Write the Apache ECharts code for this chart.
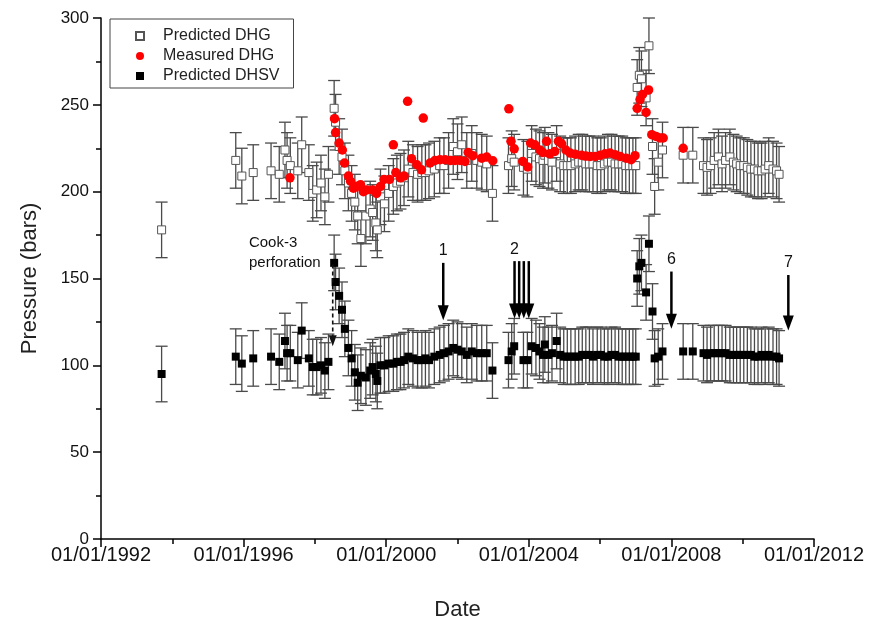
<!DOCTYPE html>
<html>
<head>
<meta charset="utf-8">
<title>Pressure</title>
<script src="https://cdn.jsdelivr.net/npm/echarts@6/dist/echarts.min.js"></script>
<style>
html, body { margin: 0; padding: 0; background: #fff; }
#chart { width: 872px; height: 626px; }
</style>
</head>
<body>
<div id="chart"></div>
<script>
// dates in decimal years
var predDates = [1993.70, 1995.78, 1995.95, 1996.27, 1996.77, 1997.00, 1997.16, 1997.22, 1997.31, 1997.52,
  1997.63, 1997.83, 1997.94, 1998.05, 1998.17, 1998.28, 1998.38, 1998.54, 1998.58, 1998.68,
  1998.76, 1998.84, 1998.94, 1999.03, 1999.12, 1999.20, 1999.29, 1999.43, 1999.55, 1999.62,
  1999.71, 1999.75, 1999.84, 1999.95, 2000.07, 2000.20, 2000.30, 2000.40, 2000.50, 2000.62,
  2000.75, 2000.88, 2001.00, 2001.10, 2001.20, 2001.35, 2001.50, 2001.62, 2001.75, 2001.88,
  2002.00, 2002.12, 2002.26, 2002.40, 2002.54, 2002.68, 2002.82, 2002.98, 2003.43, 2003.52,
  2003.59, 2003.85, 2003.96, 2004.08, 2004.20, 2004.30, 2004.40, 2004.45, 2004.55, 2004.65,
  2004.78, 2004.88, 2004.98, 2005.08, 2005.18, 2005.30, 2005.40, 2005.50, 2005.60, 2005.70,
  2005.80, 2005.92, 2006.02, 2006.12, 2006.22, 2006.32, 2006.42, 2006.52, 2006.62, 2006.72,
  2006.82, 2006.92, 2007.00, 2007.04, 2007.10, 2007.16, 2007.29, 2007.37, 2007.47, 2007.53,
  2007.63, 2007.75, 2008.33, 2008.60, 2008.90, 2009.00, 2009.10, 2009.20, 2009.32, 2009.42,
  2009.52, 2009.64, 2009.74, 2009.83, 2009.93, 2010.03, 2010.13, 2010.23, 2010.33, 2010.43,
  2010.53, 2010.63, 2010.73, 2010.85, 2010.95, 2011.02];
var predDHG = [178, 218, 209, 211, 212, 210, 224, 218, 215, 212,
  227, 211, 199, 201, 205, 197, 210, 248, 240, 226,
  220, 212, 205, 199, 194, 186, 173, 186, 190, 188,
  182, 178, 197, 193, 199, 203, 205, 206, 208, 213,
  211, 210, 211, 211, 212, 213, 215, 215, 218, 226,
  223, 227, 218, 222, 218, 217, 216, 199, 215, 219,
  217, 214, 213, 222, 220, 219, 218, 221, 218, 217,
  222, 216, 215, 215, 215, 216, 217, 217, 216, 216,
  216, 215, 215, 216, 217, 217, 216, 216, 216, 215,
  215, 215, 215, 260, 267, 265, 254, 284, 226, 203,
  217, 224, 221, 221, 215, 214, 215, 218, 220, 216,
  218, 220, 217, 216, 215, 215, 214, 213, 213, 212,
  212, 213, 215, 213, 212, 210];
var predDHSV = [95, 105, 101, 104, 105, 102, 114, 107, 107, 103,
  120, 104, 99, 99, 100, 97, 102, 159, 148, 140,
  132, 121, 110, 104, 96, 90, 94, 93, 97, 99,
  95, 91, 100, 100, 101, 101, 102, 102, 103, 105,
  104, 103, 103, 104, 103, 105, 106, 107, 108, 110,
  109, 108, 106, 108, 107, 107, 107, 97, 103, 108,
  111, 103, 103, 111, 110, 108, 106, 112, 106, 107,
  114, 106, 105, 105, 105, 105, 105, 106, 106, 106,
  105, 106, 106, 105, 105, 106, 106, 105, 105, 105,
  105, 105, 105, 150, 157, 159, 142, 170, 131, 104,
  105, 108, 108, 108, 107, 106, 107, 107, 107, 107,
  107, 106, 106, 106, 106, 106, 106, 106, 105, 105,
  106, 105, 106, 105, 105, 104];
var errHalf = 16;

var measDates = [1997.30, 1998.55, 1998.58, 1998.68, 1998.77, 1998.83, 1998.94, 1999.00, 1999.08, 1999.18,
  1999.28, 1999.36, 1999.45, 1999.62, 1999.73, 1999.84, 1999.94, 2000.09, 2000.20, 2000.27,
  2000.40, 2000.50, 2000.60, 2000.71, 2000.86, 2000.99, 2001.04, 2001.23, 2001.37, 2001.51,
  2001.65, 2001.80, 2001.93, 2002.07, 2002.21, 2002.30, 2002.43, 2002.68, 2002.82, 2002.99,
  2003.44, 2003.50, 2003.59, 2003.83, 2003.97, 2004.05, 2004.17, 2004.31, 2004.39, 2004.50,
  2004.59, 2004.73, 2004.83, 2004.92, 2005.04, 2005.16, 2005.30, 2005.48, 2005.60, 2005.72,
  2005.86, 2006.00, 2006.14, 2006.28, 2006.42, 2006.56, 2006.73, 2006.87, 2006.98, 2007.04,
  2007.12, 2007.19, 2007.29, 2007.36, 2007.45, 2007.57, 2007.68, 2007.77, 2008.33];
var measDHG = [208, 242, 234, 228, 224, 216.5, 209, 206, 202, 203,
  204, 200, 201, 201, 199, 203, 207, 207, 227, 211,
  208, 209, 252, 219, 215.5, 212.6, 242.4, 216.5, 218, 218.4,
  218.4, 218, 218, 218, 217.4, 222.6, 220.7, 219.3, 219.9, 217.8,
  247.7, 229, 224.7, 217.4, 214.2, 228, 227, 224, 222.6, 229,
  221.8, 223.2, 229, 227.6, 224, 222.2, 221.6, 220.9, 220.5, 220.3,
  220.3, 220.9, 221.8, 222.2, 221.3, 220.3, 219.3, 218.4, 220.7, 248,
  253, 256, 245.6, 258.6, 232.8, 231.8, 230.9, 230.9, 225];

// event arrows: date, arrow top, arrow tip (bars), label
var arrowX = [2001.60, 2003.60, 2003.73, 2003.86, 2004.00, 2008.00, 2011.28];
var arrowTop = [159, 160, 160, 160, 160, 154, 152];
var arrowTip = [126, 127, 127, 127, 127, 121, 120];
var arrowLabel = ['1', '2', '', '', '', '6', '7'];

var cookX = 1998.50, cookTop = 158, cookTip = 111;
var cookNote = ['Cook-3', 'perforation'];
var cookNoteX = 1996.15, cookNoteY = 165;

var xMin = 1992, xMax = 2012, xStep = 4;
var yMin = 0, yMax = 300, yStep = 50;

var fontFam = 'Liberation Sans, Arial, sans-serif';
var squareIcon = 'path://M0,0L10,0L10,10L0,10Z';

var dhgPts = [], dhsvPts = [], dhgErr = [], dhsvErr = [], measPts = [];
for (var i = 0; i < predDates.length; i++) {
  dhgPts.push([predDates[i], predDHG[i]]);
  dhsvPts.push([predDates[i], predDHSV[i]]);
  dhgErr.push([predDates[i], predDHG[i] - errHalf, predDHG[i] + errHalf]);
  dhsvErr.push([predDates[i], predDHSV[i] - errHalf, predDHSV[i] + errHalf]);
}
for (var j = 0; j < measDates.length; j++) {
  measPts.push([measDates[j], measDHG[j]]);
}
var arrowData = [];
for (var k = 0; k < arrowX.length; k++) {
  arrowData.push([arrowX[k], arrowTop[k], arrowTip[k]]);
}

function errRender(params, api) {
  var x = api.value(0);
  var lo = api.coord([x, api.value(1)]);
  var hi = api.coord([x, api.value(2)]);
  var w = 6;
  var st = { stroke: '#4a4a4a', lineWidth: 1.3 };
  return {
    type: 'group',
    children: [
      { type: 'line', shape: { x1: lo[0], y1: lo[1], x2: hi[0], y2: hi[1] }, style: st },
      { type: 'line', shape: { x1: lo[0] - w, y1: lo[1], x2: lo[0] + w, y2: lo[1] }, style: st },
      { type: 'line', shape: { x1: hi[0] - w, y1: hi[1], x2: hi[0] + w, y2: hi[1] }, style: st }
    ]
  };
}

function arrowRender(params, api) {
  var x = api.value(0);
  var top = api.coord([x, api.value(1)]);
  var tip = api.coord([x, api.value(2)]);
  var headLen = 15, headW = 5.5;
  var kids = [
    { type: 'line', shape: { x1: top[0], y1: top[1], x2: tip[0], y2: tip[1] - headLen + 2 },
      style: { stroke: '#000', lineWidth: 2.5 } },
    { type: 'polygon', shape: { points: [[tip[0] - headW, tip[1] - headLen], [tip[0] + headW, tip[1] - headLen], [tip[0], tip[1]]] },
      style: { fill: '#000' } }
  ];
  var lab = arrowLabel[params.dataIndex];
  if (lab) {
    kids.push({ type: 'text', x: top[0], y: top[1] - 4,
      style: { text: lab, fill: '#111', font: '16px ' + fontFam, textAlign: 'center', textVerticalAlign: 'bottom' } });
  }
  return { type: 'group', children: kids };
}

function cookRender(params, api) {
  var top = api.coord([cookX, cookTop]);
  var tip = api.coord([cookX, cookTip]);
  var note = api.coord([cookNoteX, cookNoteY]);
  return {
    type: 'group',
    children: [
      { type: 'line', shape: { x1: top[0], y1: top[1], x2: tip[0], y2: tip[1] - 10 },
        style: { stroke: '#111', lineWidth: 1.6, lineDash: [4, 3] } },
      { type: 'polygon', shape: { points: [[tip[0] - 4, tip[1] - 11], [tip[0] + 4, tip[1] - 11], [tip[0], tip[1]]] },
        style: { fill: '#111' } },
      { type: 'text', x: note[0], y: note[1],
        style: { text: cookNote.join('\n'), fill: '#111', font: '15px ' + fontFam, lineHeight: 20,
          textAlign: 'left', textVerticalAlign: 'middle' } }
    ]
  };
}

var myChart = echarts.init(document.getElementById('chart'));
var option = {
  animation: false,
  backgroundColor: '#fff',
  grid: { left: 101, top: 18, width: 713, height: 522, containLabel: false },
  legend: {
    left: 110, top: 19, orient: 'vertical',
    data: [
      { name: 'Predicted DHG', icon: squareIcon },
      { name: 'Measured DHG', icon: 'circle' },
      { name: 'Predicted DHSV', icon: squareIcon }
    ],
    symbolKeepAspect: true,
    borderColor: '#444', borderWidth: 1, borderRadius: 0,
    padding: [9, 14, 4, 25],
    itemWidth: 36, itemHeight: 8, itemGap: 4,
    textStyle: { fontFamily: fontFam, fontSize: 16, color: '#222', lineHeight: 16 }
  },
  xAxis: {
    type: 'value', min: xMin, max: xMax, interval: xStep,
    name: 'Date', nameLocation: 'middle', nameGap: 60,
    nameTextStyle: { fontFamily: fontFam, fontSize: 22, color: '#222' },
    axisLine: { show: true, onZero: false, lineStyle: { color: '#000', width: 1.5 } },
    axisTick: { show: true, length: 8, lineStyle: { color: '#000', width: 1.5 } },
    minorTick: { show: true, splitNumber: 2, length: 5, lineStyle: { color: '#000', width: 1.5 } },
    splitLine: { show: false },
    axisLabel: { margin: 6, fontFamily: fontFam, fontSize: 20, color: '#111',
      formatter: function (v) { return '01/01/' + v; } }
  },
  yAxis: {
    type: 'value', min: yMin, max: yMax, interval: yStep,
    name: 'Pressure (bars)', nameLocation: 'middle', nameGap: 60,
    nameTextStyle: { fontFamily: fontFam, fontSize: 22, color: '#222' },
    axisLine: { show: true, onZero: false, lineStyle: { color: '#000', width: 1.5 } },
    axisTick: { show: true, length: 8, lineStyle: { color: '#000', width: 1.5 } },
    minorTick: { show: true, splitNumber: 2, length: 5, lineStyle: { color: '#000', width: 1.5 } },
    splitLine: { show: false },
    axisLabel: { margin: 12, fontFamily: fontFam, fontSize: 17, color: '#111' }
  },
  series: [
    { type: 'custom', renderItem: errRender, data: dhgErr, encode: { x: 0, y: [1, 2] }, z: 1, silent: true },
    { type: 'custom', renderItem: errRender, data: dhsvErr, encode: { x: 0, y: [1, 2] }, z: 1, silent: true },
    { name: 'Predicted DHG', type: 'scatter', data: dhgPts, symbol: 'rect', symbolSize: 8, z: 2,
      itemStyle: { color: '#fff', borderColor: '#555', borderWidth: 1, opacity: 1 } },
    { name: 'Predicted DHSV', type: 'scatter', data: dhsvPts, symbol: 'rect', symbolSize: 8, z: 3,
      itemStyle: { color: '#000', opacity: 1 } },
    { name: 'Measured DHG', type: 'scatter', data: measPts, symbol: 'circle', symbolSize: 9.5, z: 4,
      itemStyle: { color: '#ff0000', opacity: 1 } },
    { type: 'custom', renderItem: arrowRender, data: arrowData, encode: { x: 0, y: [1, 2] }, z: 5, silent: true },
    { type: 'custom', renderItem: cookRender, data: [[cookX, cookTop, cookTip]], encode: { x: 0, y: [1, 2] }, z: 5, silent: true }
  ]
};
myChart.setOption(option);
</script>
</body>
</html>
